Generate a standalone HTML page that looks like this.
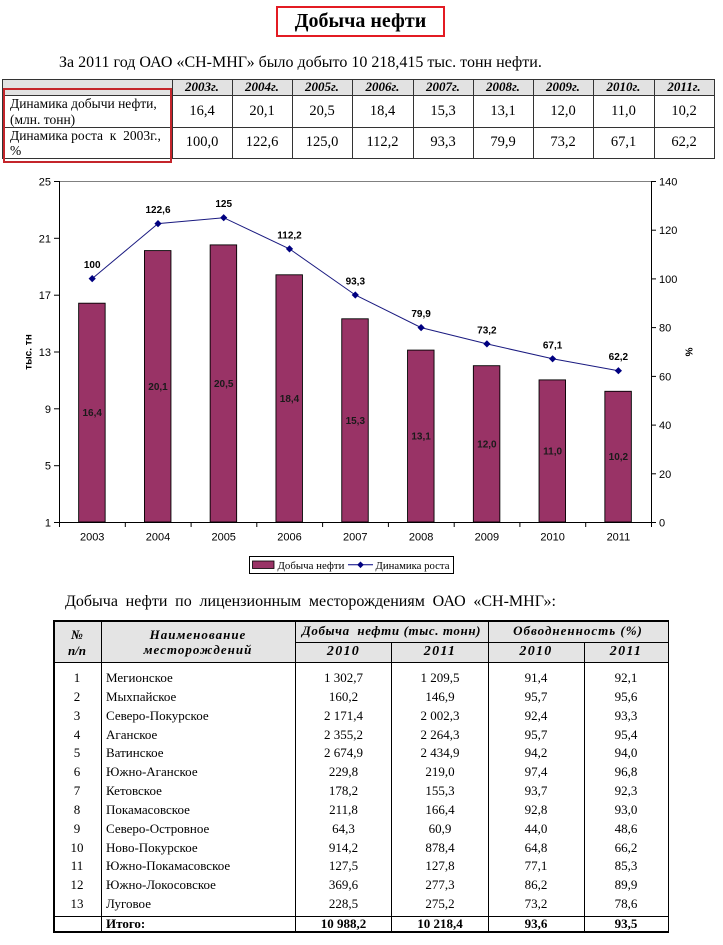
<!DOCTYPE html>
<html><head><meta charset="utf-8">
<style>
html,body{margin:0;padding:0;background:#fff;}
body{width:723px;height:945px;position:relative;overflow:hidden;font-family:"Liberation Serif","DejaVu Serif",serif;color:#000;}
.a{position:absolute;white-space:nowrap;}
.c{position:absolute;text-align:center;white-space:nowrap;}
.v{position:absolute;background:#000;}
.h{position:absolute;background:#000;}
.hd{font-style:italic;font-weight:bold;font-size:13px;}
.n1{font-size:14.5px;}
.d{font-size:13px;height:18px;line-height:18px;}
.th{font-style:italic;font-weight:bold;font-size:13px;letter-spacing:0.6px;}
</style></head><body>

<!-- Title -->
<div class="a" style="left:276px;top:6px;width:169px;height:31px;box-sizing:border-box;border:2.3px solid #e31b23;"></div>
<div class="c" style="left:276px;top:6px;width:169px;height:31px;line-height:31px;font-weight:bold;font-size:20px;">Добыча нефти</div>

<div class="a" style="left:59px;top:53px;font-size:16px;line-height:20px;">За 2011 год ОАО «СН-МНГ» было добыто 10 218,415 тыс. тонн нефти.</div>

<!-- Table 1 -->
<div class="a" style="left:2px;top:79px;width:712px;height:16px;background:#e2e2e2;"></div>
<div class="h" style="left:2px;top:79px;width:712px;height:1px;background:#333;"></div>
<div class="h" style="left:2px;top:95px;width:712px;height:1px;background:#333;"></div>
<div class="h" style="left:2px;top:127px;width:712px;height:1px;background:#333;"></div>
<div class="h" style="left:2px;top:158px;width:712px;height:1px;background:#333;"></div>
<div class="v" style="left:2px;top:79px;width:1px;height:80px;background:#333;"></div>
<div class="v" style="left:172px;top:79px;width:1px;height:80px;background:#333;"></div>
<div class="v" style="left:232px;top:79px;width:1px;height:80px;background:#333;"></div>
<div class="v" style="left:292px;top:79px;width:1px;height:80px;background:#333;"></div>
<div class="v" style="left:352px;top:79px;width:1px;height:80px;background:#333;"></div>
<div class="v" style="left:413px;top:79px;width:1px;height:80px;background:#333;"></div>
<div class="v" style="left:473px;top:79px;width:1px;height:80px;background:#333;"></div>
<div class="v" style="left:533px;top:79px;width:1px;height:80px;background:#333;"></div>
<div class="v" style="left:593px;top:79px;width:1px;height:80px;background:#333;"></div>
<div class="v" style="left:654px;top:79px;width:1px;height:80px;background:#333;"></div>
<div class="v" style="left:714px;top:79px;width:1px;height:80px;background:#333;"></div>

<div class="c hd" style="left:172px;top:79px;width:60px;line-height:16px;">2003г.</div>
<div class="c hd" style="left:232px;top:79px;width:60px;line-height:16px;">2004г.</div>
<div class="c hd" style="left:292px;top:79px;width:60px;line-height:16px;">2005г.</div>
<div class="c hd" style="left:352px;top:79px;width:61px;line-height:16px;">2006г.</div>
<div class="c hd" style="left:413px;top:79px;width:60px;line-height:16px;">2007г.</div>
<div class="c hd" style="left:473px;top:79px;width:60px;line-height:16px;">2008г.</div>
<div class="c hd" style="left:533px;top:79px;width:60px;line-height:16px;">2009г.</div>
<div class="c hd" style="left:593px;top:79px;width:61px;line-height:16px;">2010г.</div>
<div class="c hd" style="left:654px;top:79px;width:60px;line-height:16px;">2011г.</div>

<div class="a" style="left:10px;top:96px;font-size:13.5px;line-height:16px;">Динамика добычи нефти,<br>(млн. тонн)</div>
<div class="a" style="left:10px;top:128px;font-size:13.5px;line-height:15px;">Динамика роста&nbsp; к&nbsp; 2003г.,<br>%</div>

<div class="c n1" style="left:172px;top:95px;width:60px;line-height:32px;">16,4</div>
<div class="c n1" style="left:232px;top:95px;width:60px;line-height:32px;">20,1</div>
<div class="c n1" style="left:292px;top:95px;width:60px;line-height:32px;">20,5</div>
<div class="c n1" style="left:352px;top:95px;width:61px;line-height:32px;">18,4</div>
<div class="c n1" style="left:413px;top:95px;width:60px;line-height:32px;">15,3</div>
<div class="c n1" style="left:473px;top:95px;width:60px;line-height:32px;">13,1</div>
<div class="c n1" style="left:533px;top:95px;width:60px;line-height:32px;">12,0</div>
<div class="c n1" style="left:593px;top:95px;width:61px;line-height:32px;">11,0</div>
<div class="c n1" style="left:654px;top:95px;width:60px;line-height:32px;">10,2</div>

<div class="c n1" style="left:172px;top:127px;width:60px;line-height:31px;">100,0</div>
<div class="c n1" style="left:232px;top:127px;width:60px;line-height:31px;">122,6</div>
<div class="c n1" style="left:292px;top:127px;width:60px;line-height:31px;">125,0</div>
<div class="c n1" style="left:352px;top:127px;width:61px;line-height:31px;">112,2</div>
<div class="c n1" style="left:413px;top:127px;width:60px;line-height:31px;">93,3</div>
<div class="c n1" style="left:473px;top:127px;width:60px;line-height:31px;">79,9</div>
<div class="c n1" style="left:533px;top:127px;width:60px;line-height:31px;">73,2</div>
<div class="c n1" style="left:593px;top:127px;width:61px;line-height:31px;">67,1</div>
<div class="c n1" style="left:654px;top:127px;width:60px;line-height:31px;">62,2</div>

<div class="a" style="left:3px;top:88px;width:169px;height:75px;box-sizing:border-box;border:2.5px solid #c4252b;"></div>

<!-- Chart -->
<svg class="a" style="left:0;top:0;" width="723" height="945" xmlns="http://www.w3.org/2000/svg" font-family="Liberation Sans, Arial, sans-serif">
  <line x1="59" y1="181.5" x2="651" y2="181.5" stroke="#808080" stroke-width="1"/>
  <g fill="#993366" stroke="#000" stroke-width="0.9">
    <rect x="78.65" y="303.2" width="26.5" height="218.8"/>
    <rect x="144.45" y="250.6" width="26.5" height="271.4"/>
    <rect x="210.15" y="244.9" width="26.5" height="277.1"/>
    <rect x="275.95" y="274.8" width="26.5" height="247.2"/>
    <rect x="341.75" y="318.8" width="26.5" height="203.2"/>
    <rect x="407.55" y="350.1" width="26.5" height="171.9"/>
    <rect x="473.35" y="365.7" width="26.5" height="156.3"/>
    <rect x="539.05" y="379.9" width="26.5" height="142.1"/>
    <rect x="604.85" y="391.3" width="26.5" height="130.7"/>
  </g>
  <g stroke="#000" stroke-width="1">
    <line x1="59.5" y1="181" x2="59.5" y2="522.5"/>
    <line x1="651.5" y1="181" x2="651.5" y2="522.5"/>
    <line x1="59" y1="522.5" x2="652" y2="522.5"/>
    <line x1="54" y1="181.5" x2="59" y2="181.5"/>
    <line x1="54" y1="238.3" x2="59" y2="238.3"/>
    <line x1="54" y1="295.2" x2="59" y2="295.2"/>
    <line x1="54" y1="352" x2="59" y2="352"/>
    <line x1="54" y1="408.8" x2="59" y2="408.8"/>
    <line x1="54" y1="465.7" x2="59" y2="465.7"/>
    <line x1="54" y1="522.5" x2="59" y2="522.5"/>
    <line x1="651" y1="181.5" x2="656" y2="181.5"/>
    <line x1="651" y1="230.2" x2="656" y2="230.2"/>
    <line x1="651" y1="278.9" x2="656" y2="278.9"/>
    <line x1="651" y1="327.6" x2="656" y2="327.6"/>
    <line x1="651" y1="376.4" x2="656" y2="376.4"/>
    <line x1="651" y1="425.1" x2="656" y2="425.1"/>
    <line x1="651" y1="473.8" x2="656" y2="473.8"/>
    <line x1="651" y1="522.5" x2="656" y2="522.5"/>
    <line x1="59.5" y1="522" x2="59.5" y2="527"/>
    <line x1="125.3" y1="522" x2="125.3" y2="527"/>
    <line x1="191.1" y1="522" x2="191.1" y2="527"/>
    <line x1="256.8" y1="522" x2="256.8" y2="527"/>
    <line x1="322.6" y1="522" x2="322.6" y2="527"/>
    <line x1="388.4" y1="522" x2="388.4" y2="527"/>
    <line x1="454.2" y1="522" x2="454.2" y2="527"/>
    <line x1="519.9" y1="522" x2="519.9" y2="527"/>
    <line x1="585.7" y1="522" x2="585.7" y2="527"/>
    <line x1="651.5" y1="522" x2="651.5" y2="527"/>
  </g>
  <g font-size="11" text-anchor="end" fill="#000">
    <text x="51" y="185.5">25</text>
    <text x="51" y="242.3">21</text>
    <text x="51" y="299.2">17</text>
    <text x="51" y="356">13</text>
    <text x="51" y="412.8">9</text>
    <text x="51" y="469.7">5</text>
    <text x="51" y="526.5">1</text>
  </g>
  <g font-size="11" text-anchor="start" fill="#000">
    <text x="659" y="185.5">140</text>
    <text x="659" y="234.2">120</text>
    <text x="659" y="282.9">100</text>
    <text x="659" y="331.6">80</text>
    <text x="659" y="380.4">60</text>
    <text x="659" y="429.1">40</text>
    <text x="659" y="477.8">20</text>
    <text x="659" y="526.5">0</text>
  </g>
  <g font-size="11" text-anchor="middle" fill="#000">
    <text x="92.2" y="540.5">2003</text>
    <text x="158" y="540.5">2004</text>
    <text x="223.7" y="540.5">2005</text>
    <text x="289.5" y="540.5">2006</text>
    <text x="355.3" y="540.5">2007</text>
    <text x="421.1" y="540.5">2008</text>
    <text x="486.9" y="540.5">2009</text>
    <text x="552.6" y="540.5">2010</text>
    <text x="618.4" y="540.5">2011</text>
  </g>
  <text x="29" y="352" font-size="10" font-weight="bold" text-anchor="middle" dominant-baseline="central" transform="rotate(-90 29 352)">тыс. тн</text>
  <text x="688" y="352" font-size="10" font-weight="bold" text-anchor="middle" dominant-baseline="central" transform="rotate(90 688 352)">%</text>
  <g font-size="10" font-weight="bold" text-anchor="middle" fill="#1a1a1a">
    <text x="92.2" y="416.1">16,4</text>
    <text x="158" y="389.8">20,1</text>
    <text x="223.7" y="387">20,5</text>
    <text x="289.5" y="401.9">18,4</text>
    <text x="355.3" y="423.9">15,3</text>
    <text x="421.1" y="439.6">13,1</text>
    <text x="486.9" y="447.4">12,0</text>
    <text x="552.6" y="454.5">11,0</text>
    <text x="618.4" y="460.2">10,2</text>
  </g>
  <polyline fill="none" stroke="#1a1a80" stroke-width="1" points="92.2,278.6 158,223.6 223.7,217.7 289.5,248.9 355.3,295 421.1,327.6 486.9,343.9 552.6,358.8 618.4,370.7"/>
  <g fill="#000080">
    <polygon points="92.2,275 95.8,278.6 92.2,282.2 88.6,278.6"/>
    <polygon points="158,220 161.6,223.6 158,227.2 154.4,223.6"/>
    <polygon points="223.7,214.1 227.3,217.7 223.7,221.3 220.1,217.7"/>
    <polygon points="289.5,245.3 293.1,248.9 289.5,252.5 285.9,248.9"/>
    <polygon points="355.3,291.4 358.9,295 355.3,298.6 351.7,295"/>
    <polygon points="421.1,324 424.7,327.6 421.1,331.2 417.5,327.6"/>
    <polygon points="486.9,340.3 490.5,343.9 486.9,347.5 483.3,343.9"/>
    <polygon points="552.6,355.2 556.2,358.8 552.6,362.4 549,358.8"/>
    <polygon points="618.4,367.1 622,370.7 618.4,374.3 614.8,370.7"/>
  </g>
  <g font-size="10" font-weight="bold" text-anchor="middle" fill="#000">
    <text x="92.2" y="268">100</text>
    <text x="158" y="213">122,6</text>
    <text x="223.7" y="207.2">125</text>
    <text x="289.5" y="238.4">112,2</text>
    <text x="355.3" y="284.5">93,3</text>
    <text x="421.1" y="317.1">79,9</text>
    <text x="486.9" y="333.4">73,2</text>
    <text x="552.6" y="348.3">67,1</text>
    <text x="618.4" y="360.2">62,2</text>
  </g>
  <rect x="249.5" y="556.5" width="204" height="17" fill="#fff" stroke="#000" stroke-width="1"/>
  <rect x="252.5" y="561" width="21.5" height="7.5" fill="#993366" stroke="#000" stroke-width="0.8"/>
  <text x="277.5" y="569" font-family="Liberation Serif, serif" font-size="11" textLength="67" lengthAdjust="spacingAndGlyphs">Добыча нефти</text>
  <line x1="348" y1="564.8" x2="373" y2="564.8" stroke="#000080" stroke-width="1"/>
  <polygon points="360.5,561.5 363.8,564.8 360.5,568.1 357.2,564.8" fill="#000080"/>
  <text x="375.5" y="569" font-family="Liberation Serif, serif" font-size="11" textLength="74" lengthAdjust="spacingAndGlyphs">Динамика роста</text>
</svg>

<div class="a" style="left:65px;top:592px;width:491px;font-size:16px;line-height:20px;text-align:justify;text-align-last:justify;white-space:normal;">Добыча нефти по лицензионным месторождениям ОАО «СН-МНГ»:</div>

<!-- Table 2 -->
<div class="a" style="left:53px;top:620px;width:615px;height:42px;background:#e4e4e4;"></div>
<div class="h" style="left:53px;top:620px;width:616px;height:1.5px;"></div>
<div class="h" style="left:295px;top:641.5px;width:373px;height:1.3px;"></div>
<div class="h" style="left:53px;top:661.5px;width:616px;height:1.5px;"></div>
<div class="h" style="left:53px;top:915.5px;width:616px;height:1.5px;"></div>
<div class="h" style="left:53px;top:931px;width:616px;height:1.5px;"></div>
<div class="v" style="left:53px;top:620px;width:1.5px;height:312.5px;"></div>
<div class="v" style="left:100.5px;top:620px;width:1.3px;height:312px;"></div>
<div class="v" style="left:294.5px;top:620px;width:1.3px;height:312px;"></div>
<div class="v" style="left:391px;top:641.5px;width:1.3px;height:290.5px;"></div>
<div class="v" style="left:487.5px;top:620px;width:1.3px;height:312px;"></div>
<div class="v" style="left:583.5px;top:641.5px;width:1.3px;height:290.5px;"></div>
<div class="v" style="left:667.5px;top:620px;width:1.5px;height:312.5px;"></div>

<div class="c th" style="left:53px;top:627px;width:48px;line-height:16px;letter-spacing:0;">№<br>п/п</div>
<div class="c th" style="left:101px;top:627px;width:194px;line-height:15px;letter-spacing:1px;">Наименование<br>месторождений</div>
<div class="c th" style="left:295px;top:621px;width:193px;line-height:20px;">Добыча&nbsp; нефти (тыс. тонн)</div>
<div class="c th" style="left:488px;top:621px;width:180px;line-height:20px;letter-spacing:1px;">Обводненность (%)</div>
<div class="c th" style="left:295px;top:642px;width:97px;line-height:20px;font-size:14px;letter-spacing:1.3px;">2010</div>
<div class="c th" style="left:392px;top:642px;width:96px;line-height:20px;font-size:14px;letter-spacing:1.3px;">2011</div>
<div class="c th" style="left:488px;top:642px;width:96px;line-height:20px;font-size:14px;letter-spacing:1.3px;">2010</div>
<div class="c th" style="left:584px;top:642px;width:84px;line-height:20px;font-size:14px;letter-spacing:1.3px;">2011</div>

<div class="c d" style="left:53px;top:669px;width:48px;">1</div><div class="a d" style="left:106px;top:669px;">Мегионское</div><div class="c d" style="left:295px;top:669px;width:97px;">1 302,7</div><div class="c d" style="left:392px;top:669px;width:96px;">1 209,5</div><div class="c d" style="left:488px;top:669px;width:96px;">91,4</div><div class="c d" style="left:584px;top:669px;width:84px;">92,1</div>
<div class="c d" style="left:53px;top:687.8px;width:48px;">2</div><div class="a d" style="left:106px;top:687.8px;">Мыхпайское</div><div class="c d" style="left:295px;top:687.8px;width:97px;">160,2</div><div class="c d" style="left:392px;top:687.8px;width:96px;">146,9</div><div class="c d" style="left:488px;top:687.8px;width:96px;">95,7</div><div class="c d" style="left:584px;top:687.8px;width:84px;">95,6</div>
<div class="c d" style="left:53px;top:706.7px;width:48px;">3</div><div class="a d" style="left:106px;top:706.7px;">Северо-Покурское</div><div class="c d" style="left:295px;top:706.7px;width:97px;">2 171,4</div><div class="c d" style="left:392px;top:706.7px;width:96px;">2 002,3</div><div class="c d" style="left:488px;top:706.7px;width:96px;">92,4</div><div class="c d" style="left:584px;top:706.7px;width:84px;">93,3</div>
<div class="c d" style="left:53px;top:725.5px;width:48px;">4</div><div class="a d" style="left:106px;top:725.5px;">Аганское</div><div class="c d" style="left:295px;top:725.5px;width:97px;">2 355,2</div><div class="c d" style="left:392px;top:725.5px;width:96px;">2 264,3</div><div class="c d" style="left:488px;top:725.5px;width:96px;">95,7</div><div class="c d" style="left:584px;top:725.5px;width:84px;">95,4</div>
<div class="c d" style="left:53px;top:744.3px;width:48px;">5</div><div class="a d" style="left:106px;top:744.3px;">Ватинское</div><div class="c d" style="left:295px;top:744.3px;width:97px;">2 674,9</div><div class="c d" style="left:392px;top:744.3px;width:96px;">2 434,9</div><div class="c d" style="left:488px;top:744.3px;width:96px;">94,2</div><div class="c d" style="left:584px;top:744.3px;width:84px;">94,0</div>
<div class="c d" style="left:53px;top:763.2px;width:48px;">6</div><div class="a d" style="left:106px;top:763.2px;">Южно-Аганское</div><div class="c d" style="left:295px;top:763.2px;width:97px;">229,8</div><div class="c d" style="left:392px;top:763.2px;width:96px;">219,0</div><div class="c d" style="left:488px;top:763.2px;width:96px;">97,4</div><div class="c d" style="left:584px;top:763.2px;width:84px;">96,8</div>
<div class="c d" style="left:53px;top:782px;width:48px;">7</div><div class="a d" style="left:106px;top:782px;">Кетовское</div><div class="c d" style="left:295px;top:782px;width:97px;">178,2</div><div class="c d" style="left:392px;top:782px;width:96px;">155,3</div><div class="c d" style="left:488px;top:782px;width:96px;">93,7</div><div class="c d" style="left:584px;top:782px;width:84px;">92,3</div>
<div class="c d" style="left:53px;top:800.8px;width:48px;">8</div><div class="a d" style="left:106px;top:800.8px;">Покамасовское</div><div class="c d" style="left:295px;top:800.8px;width:97px;">211,8</div><div class="c d" style="left:392px;top:800.8px;width:96px;">166,4</div><div class="c d" style="left:488px;top:800.8px;width:96px;">92,8</div><div class="c d" style="left:584px;top:800.8px;width:84px;">93,0</div>
<div class="c d" style="left:53px;top:819.6px;width:48px;">9</div><div class="a d" style="left:106px;top:819.6px;">Северо-Островное</div><div class="c d" style="left:295px;top:819.6px;width:97px;">64,3</div><div class="c d" style="left:392px;top:819.6px;width:96px;">60,9</div><div class="c d" style="left:488px;top:819.6px;width:96px;">44,0</div><div class="c d" style="left:584px;top:819.6px;width:84px;">48,6</div>
<div class="c d" style="left:53px;top:838.5px;width:48px;">10</div><div class="a d" style="left:106px;top:838.5px;">Ново-Покурское</div><div class="c d" style="left:295px;top:838.5px;width:97px;">914,2</div><div class="c d" style="left:392px;top:838.5px;width:96px;">878,4</div><div class="c d" style="left:488px;top:838.5px;width:96px;">64,8</div><div class="c d" style="left:584px;top:838.5px;width:84px;">66,2</div>
<div class="c d" style="left:53px;top:857.3px;width:48px;">11</div><div class="a d" style="left:106px;top:857.3px;">Южно-Покамасовское</div><div class="c d" style="left:295px;top:857.3px;width:97px;">127,5</div><div class="c d" style="left:392px;top:857.3px;width:96px;">127,8</div><div class="c d" style="left:488px;top:857.3px;width:96px;">77,1</div><div class="c d" style="left:584px;top:857.3px;width:84px;">85,3</div>
<div class="c d" style="left:53px;top:876.1px;width:48px;">12</div><div class="a d" style="left:106px;top:876.1px;">Южно-Локосовское</div><div class="c d" style="left:295px;top:876.1px;width:97px;">369,6</div><div class="c d" style="left:392px;top:876.1px;width:96px;">277,3</div><div class="c d" style="left:488px;top:876.1px;width:96px;">86,2</div><div class="c d" style="left:584px;top:876.1px;width:84px;">89,9</div>
<div class="c d" style="left:53px;top:895px;width:48px;">13</div><div class="a d" style="left:106px;top:895px;">Луговое</div><div class="c d" style="left:295px;top:895px;width:97px;">228,5</div><div class="c d" style="left:392px;top:895px;width:96px;">275,2</div><div class="c d" style="left:488px;top:895px;width:96px;">73,2</div><div class="c d" style="left:584px;top:895px;width:84px;">78,6</div>
<div class="a d" style="left:106px;top:914.5px;font-weight:bold;">Итого:</div><div class="c d" style="left:295px;top:914.5px;width:97px;font-weight:bold;">10 988,2</div><div class="c d" style="left:392px;top:914.5px;width:96px;font-weight:bold;">10 218,4</div><div class="c d" style="left:488px;top:914.5px;width:96px;font-weight:bold;">93,6</div><div class="c d" style="left:584px;top:914.5px;width:84px;font-weight:bold;">93,5</div>

</body></html>
